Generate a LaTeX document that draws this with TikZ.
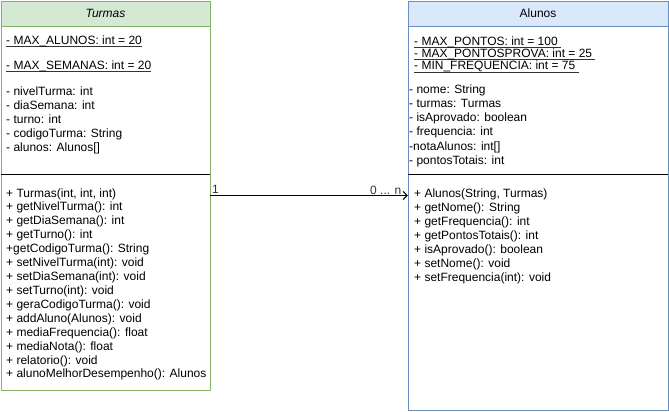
\documentclass[tikz,border=0pt]{standalone}
\usepackage{fontspec}
\setmainfont{Liberation Sans}
\usetikzlibrary{arrows.meta}
\definecolor{tfill}{HTML}{D5E8D4}
\definecolor{tline}{HTML}{82B366}
\definecolor{afill}{HTML}{DAE8FC}
\definecolor{aline}{HTML}{6C8EBF}
\newcommand\myul[1]{\setbox0\hbox{#1}\rlap{\color{black!80}\rule[-2.8bp]{\wd0}{1.1bp}}\box0}
\begin{document}
\begin{tikzpicture}[x=1bp,y=-1bp,
  txt/.style={anchor=base west,inner sep=0pt,font=\fontsize{12bp}{14bp}\selectfont},
  hdr/.style={inner sep=0pt,font=\fontsize{12bp}{14bp}\selectfont},
  lbl/.style={anchor=base west,inner sep=0pt,font=\fontsize{12bp}{14bp}\selectfont,text=black!80},
  sep/.style={draw=black,line width=1bp},
  conn/.style={draw=black,line width=1bp,-{Straight Barb[length=4bp,width=8bp]}}]
\useasboundingbox (0,0) rectangle (669,411);
% Turmas
\path[draw=tline,line width=1bp,fill=white] (1,1) rectangle (210,390);
\path[draw=tline,line width=1bp,fill=tfill] (1,1) rectangle (210,26);
\node[draw=none,minimum width=209bp,minimum height=389bp,inner sep=0pt] (turmas) at (105.5,195.5) {};
\node[hdr] (th) at (105.5,13.5) {\itshape Turmas};
\draw[sep] (1,174) -- (210,174);
\node[txt] (ts1) at (6,44) {\myul{- MAX\_ALUNOS: int = 20}};
\node[txt] (ts2) at (6,69) {\myul{- MAX\_SEMANAS: int = 20}};
\foreach \t [count=\i] in {- nivelTurma: int, - diaSemana: int, - turno: int, - codigoTurma: String, - alunos: Alunos[]}
  \node[txt] (tf\i) at (6,{95+14.1*(\i-1)}) {\t};
\foreach \t [count=\i] in {{+ Turmas(int, int, int)}, + getNivelTurma(): int, + getDiaSemana(): int, + getTurno(): int, +getCodigoTurma(): String, + setNivelTurma(int): void, + setDiaSemana(int): void, + setTurno(int): void, + geraCodigoTurma(): void, + addAluno(Alunos): void, + mediaFrequencia(): float, + mediaNota(): float, + relatorio(): void, + alunoMelhorDesempenho(): Alunos}
  \node[txt] (tm\i) at (6,{197+13.92*(\i-1)}) {\t};
% Alunos
\path[draw=aline,line width=1bp,fill=white] (408,1) rectangle (668,410);
\path[draw=aline,line width=1bp,fill=afill] (408,1) rectangle (668,26);
\node[draw=none,minimum width=260bp,minimum height=409bp,inner sep=0pt] (alunos) at (538,205.5) {};
\node[hdr] (ah) at (538,13.5) {Alunos};
\draw[sep] (408,174) -- (668,174);
\node[txt] (as1) at (414,45.3) {\myul{- MAX\_PONTOS: int = 100\ }};
\node[txt] (as2) at (414,57.6) {\myul{- MAX\_PONTOSPROVA: int = 25\ }};
\node[txt] (as3) at (414,69.9) {\myul{- MIN\_FREQUENCIA: int = 75\ }};
\foreach \t [count=\i] in {- nome: String, - turmas: Turmas, - isAprovado: boolean, - frequencia: int, -notaAlunos: int[], - pontosTotais: int}
  \node[txt] (af\i) at (409,{93.6+14.1*(\i-1)}) {\t};
\foreach \t [count=\i] in {{+ Alunos(String, Turmas)}, + getNome(): String, + getFrequencia(): int, + getPontosTotais(): int, + isAprovado(): boolean, + setNome(): void, + setFrequencia(int): void}
  \node[txt] (am\i) at (414,{197+14*(\i-1)}) {\t};
% connector
\draw[conn] (turmas.east) -- (turmas.east -| alunos.west);
\node[lbl] (l1) at (212,193) {1};
\node[lbl] (l2) at (370,194) {0 ... n};
\end{tikzpicture}
\end{document}
